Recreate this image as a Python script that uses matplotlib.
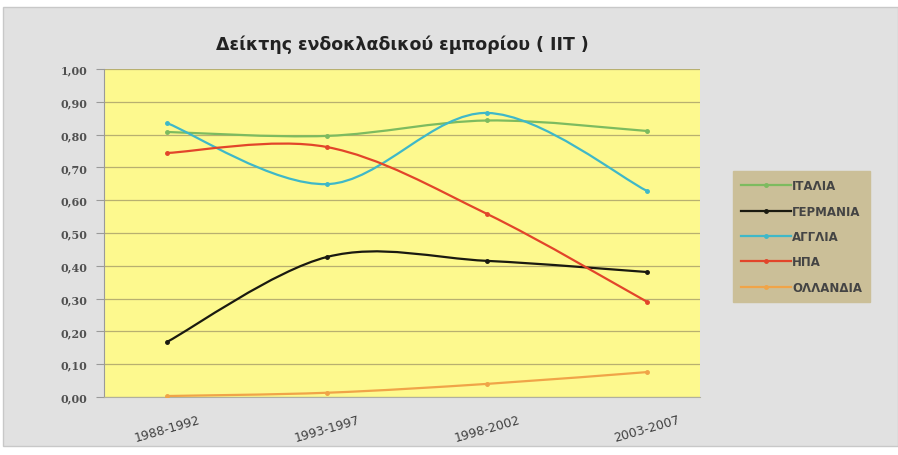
import matplotlib
matplotlib.use("Agg")
import matplotlib.pyplot as plt
from matplotlib.path import Path
from matplotlib.patches import PathPatch, Rectangle
from matplotlib.lines import Line2D
from matplotlib.ticker import FuncFormatter, MultipleLocator

categories = ["1988-1992", "1993-1997", "1998-2002", "2003-2007"]
italia = [0.808, 0.796, 0.843, 0.811]
germania = [0.168, 0.427, 0.415, 0.381]
anglia = [0.835, 0.649, 0.866, 0.628]
hpa = [0.744, 0.762, 0.558, 0.290]
ollandia = [0.003, 0.013, 0.040, 0.076]
series_names = ["ΙΤΑΛΙΑ", "ΓΕΡΜΑΝΙΑ", "ΑΓΓΛΙΑ", "ΗΠΑ", "ΟΛΛΑΝΔΙΑ"]
title = "Δείκτης ενδοκλαδικού εμπορίου ( IIT )"

colors = ["#7dbb5f", "#1a1a10", "#3fb8c8", "#e2452a", "#f0a448"]
series = [italia, germania, anglia, hpa, ollandia]

fig = plt.figure(figsize=(8.98, 4.56), dpi=100, facecolor="white")
# chart frame
fig.patches.append(Rectangle((3 / 898, 0.02), 1 - 3 / 898, 1 - 8 / 456 - 0.02,
                             transform=fig.transFigure, facecolor="#e1e1e1",
                             edgecolor="#c8c8c8", lw=1, zorder=-10))

ax = fig.add_axes([104 / 898, (456 - 398) / 456, 596 / 898, 328 / 456])
ax.set_zorder(1)
ax.set_facecolor("#fdf98e")
ax.set_ylim(0, 1.0)
ax.set_xlim(-0.394, 3.33)
ax.yaxis.set_major_locator(MultipleLocator(0.1))
ax.yaxis.set_major_formatter(FuncFormatter(lambda v, p: f"{v:.2f}".replace(".", ",")))
ax.grid(axis="y", color="#b8b070", lw=0.9)
ax.set_axisbelow(True)
for s in ["top", "right"]:
    ax.spines[s].set_visible(False)
ax.spines["left"].set_color("#9a9a9a")
ax.spines["bottom"].set_color("#b0b0a0")
ax.tick_params(axis="y", length=6, color="#9a9a9a", labelsize=8, labelcolor="#505050", pad=6)
ax.tick_params(axis="x", length=0, labelsize=9, labelcolor="#404040", pad=11)
for lab in ax.get_yticklabels():
    lab.set_fontfamily("DejaVu Serif")
    lab.set_fontweight("bold")
xs = list(range(len(categories)))
ax.set_xticks(xs)
ax.set_xticklabels(categories, rotation=16, ha="center", family="DejaVu Sans")


def smooth_path(x, y):
    n = len(x)
    verts = [(x[0], y[0])]
    codes = [Path.MOVETO]
    for i in range(n - 1):
        xp, yp = (x[i - 1], y[i - 1]) if i > 0 else (x[i], y[i])
        xn, yn = (x[i + 2], y[i + 2]) if i + 2 < n else (x[i + 1], y[i + 1])
        c1 = (x[i] + (x[i + 1] - xp) / 6, y[i] + (y[i + 1] - yp) / 6)
        c2 = (x[i + 1] - (xn - x[i]) / 6, y[i + 1] - (yn - y[i]) / 6)
        verts += [c1, c2, (x[i + 1], y[i + 1])]
        codes += [Path.CURVE4] * 3
    return Path(verts, codes)


handles = []
for name, vals, c in zip(series_names, series, colors):
    ax.add_patch(PathPatch(smooth_path(xs, vals), fill=False, edgecolor=c, lw=1.6, zorder=3))
    ax.plot(xs, vals, linestyle="none", marker="o", ms=2.5, color=c, zorder=4)
    handles.append(Line2D([0], [0], color=c, lw=1.6, marker="o", ms=2.5))

fig.text(402 / 898, 1 - 45 / 456, title, ha="center", va="center",
         fontsize=12.5, fontweight="bold", color="#222222")

leg = fig.legend(handles, series_names, loc="upper left",
                 bbox_to_anchor=(733 / 898, 1 - 172 / 456), borderaxespad=0,
                 frameon=True, fancybox=False, facecolor="#cbbf98", edgecolor="#cbbf98",
                 handlelength=4.2, handletextpad=0.1, labelspacing=1.05,
                 borderpad=0.7, prop={"size": 8.5, "weight": "bold"})
leg.get_frame().set_alpha(1)
for t in leg.get_texts():
    t.set_color("#444444")

fig.savefig("out.png", dpi=100, facecolor=fig.get_facecolor())
